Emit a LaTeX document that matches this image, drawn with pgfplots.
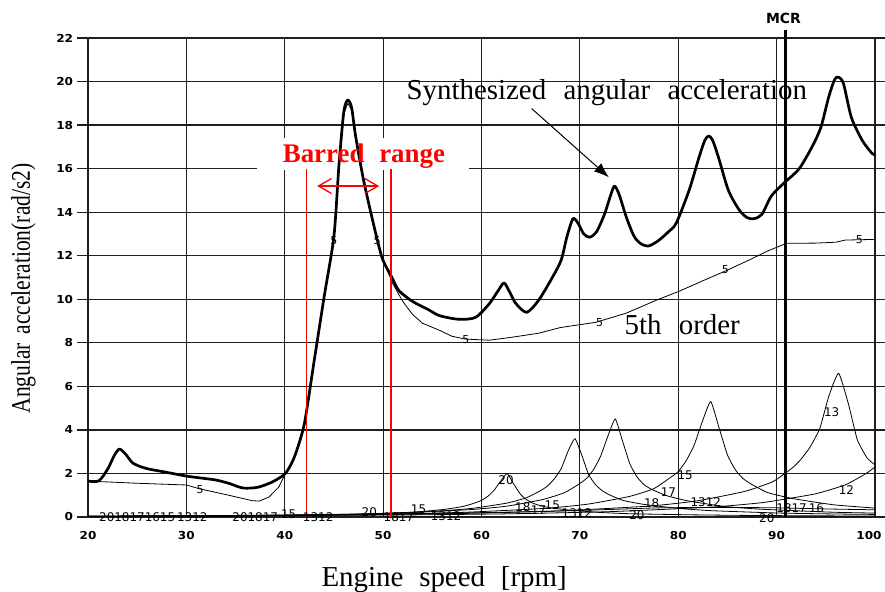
\documentclass[border=0pt]{standalone}
\usepackage{pgfplots}
\pgfplotsset{compat=1.18}
\usepackage{fontspec}
\setmainfont{Liberation Serif}
\newfontfamily\tickfont{DejaVu Sans}
\usetikzlibrary{arrows.meta}
\begin{document}
\begin{tikzpicture}
\path[use as bounding box] (-88bp,-75bp) rectangle (797bp,517bp);
\begin{axis}[
  at={(0bp,0bp)}, anchor=south west,
  scale only axis, width=787bp, height=479bp,
  xmin=20, xmax=100, ymin=0, ymax=22,
  xtick={20,30,...,100}, ytick={0,2,...,22},
  xticklabels={20,30,40,50,60,70,80,90,\kern-11bp 100},
  grid=major,
  grid style={line width=1.2bp, color=black!88},
  axis line style={line width=1.2bp, color=black!88},
  tick align=outside, major tick length=11bp,
  xtick style={draw=none},
  ytick style={line width=1.2bp, color=black!88},
  /pgf/number format/assume math mode=true,
  ticklabel style={font=\tickfont\bfseries\fontsize{11}{11}\selectfont, xscale=1.1},
  clip=false,
]
% white box behind the title of the barred range
\fill[white] (axis cs:37.2,15.93) rectangle (axis cs:58.7,17.4);

% ---- order curves (thin) ----
\pgfplotsset{every axis plot/.append style={line join=round}}
% order 20
\addplot[black, line width=0.8bp, smooth, tension=0.3] coordinates {(20,0.02)(25.0,0.025)(31.3,0.031)(37.6,0.049)(43.8,0.082)(50.1,0.152)(53.2,0.224)(56.3,0.354)(58.2,0.492)(59.5,0.672)(60.1,0.79)(60.7,0.97)(61.3,1.24)(62.0,1.68)(62.6,2.0)(63.2,1.57)(63.9,1.08)(64.5,0.82)(65.1,0.66)(65.7,0.56)(67.0,0.42)(68.9,0.32)(72.0,0.21)(75.1,0.15)(81.4,0.10)(87.6,0.07)(93.9,0.054)(100,0.044)};
% order 18
\addplot[black, line width=0.8bp, smooth, tension=0.3] coordinates {(20,0.03)(27.8,0.045)(34.8,0.056)(41.7,0.088)(48.7,0.147)(55.6,0.273)(59.1,0.40)(62.6,0.64)(64.6,0.89)(66.0,1.21)(66.7,1.42)(67.4,1.75)(68.1,2.22)(68.8,3.02)(69.5,3.6)(70.2,2.83)(70.9,1.94)(71.6,1.48)(72.3,1.20)(73.0,1.02)(74.4,0.76)(76.5,0.58)(79.9,0.40)(83.4,0.29)(90.4,0.18)(97.3,0.13)(100,0.12)};
% order 17
\addplot[black, line width=0.8bp, smooth, tension=0.3] coordinates {(20,0.03)(29.4,0.056)(36.8,0.07)(44.2,0.11)(51.5,0.184)(58.9,0.34)(62.6,0.50)(66.2,0.80)(68.4,1.11)(69.9,1.51)(70.7,1.78)(71.4,2.19)(72.1,2.78)(72.9,3.78)(73.6,4.5)(74.3,3.54)(75.1,2.42)(75.8,1.85)(76.5,1.49)(77.3,1.27)(78.8,0.98)(81.0,0.74)(84.6,0.49)(88.3,0.36)(95.7,0.22)(100,0.18)};
% order 16
\addplot[black, line width=0.8bp, smooth, tension=0.3] coordinates {(20,0.03)(30,0.05)(40,0.08)(50,0.13)(60,0.2)(70,0.3)(78,0.42)(85,0.44)(90,0.42)(95,0.37)(100,0.33)};
% order 15
\addplot[black, line width=0.8bp, smooth, tension=0.3] coordinates {(20,0.03)(33.3,0.066)(41.7,0.083)(50.0,0.13)(58.3,0.216)(66.6,0.40)(70.8,0.59)(75.0,0.94)(77.5,1.30)(79.1,1.78)(80.0,2.09)(80.8,2.58)(81.6,3.28)(82.5,4.45)(83.3,5.3)(84.1,4.17)(85.0,2.85)(85.8,2.17)(86.6,1.76)(87.5,1.49)(89.1,1.12)(91.6,0.85)(95.8,0.56)(100,0.41)};
% order 13
\addplot[black, line width=0.8bp, smooth, tension=0.3] coordinates {(20,0.03)(38.5,0.082)(48.2,0.10)(57.8,0.16)(67.4,0.27)(77.0,0.50)(81.9,0.74)(86.7,1.17)(89.6,1.62)(91.5,2.22)(92.4,2.61)(93.4,3.21)(94.4,4.08)(95.3,5.54)(96.3,6.6)(97.3,5.19)(98.2,3.55)(99.2,2.71)(100,2.4)};
% order 12
\addplot[black, line width=0.8bp, smooth, tension=0.3] coordinates {(20,0.03)(41.7,0.074)(52.2,0.094)(62.6,0.146)(73.0,0.245)(83.4,0.455)(88.7,0.67)(93.9,1.06)(97.0,1.48)(99.1,2.0)(100,2.3)};
% order 5
\addplot[black, line width=0.8bp] coordinates {(20,1.65)(25,1.55)(30,1.47)(31.3,1.3)(34.3,1.0)(36.7,0.75)(37.4,0.73)(38.4,0.92)(39.4,1.38)(40,1.93)(40.5,2.3)(41.1,2.9)(42,4.3)(43,7.2)(44,10.1)(45,12.8)(45.5,16.0)(46.0,18.5)(46.4,19.0)(46.8,18.7)(47.2,17.4)(48,15.4)(49,13.4)(49.9,11.9)(51,10.7)(52,9.9)(53,9.3)(54,8.9)(55.7,8.58)(57,8.3)(58.4,8.17)(60.8,8.12)(63,8.25)(65.8,8.44)(68,8.7)(71.6,8.94)(74.7,9.36)(78,10.0)(80.1,10.37)(82.5,10.85)(84.8,11.3)(87.2,11.8)(89,12.2)(91,12.57)(94,12.58)(96,12.62)(97,12.72)(100,12.75)};

% ---- synthesized (thick) ----
\addplot[black, line width=2.7bp, smooth, tension=0.45] coordinates {(20,1.65)(21.1,1.66)(22,2.2)(22.7,2.85)(23.2,3.12)(23.8,2.9)(24.5,2.5)(25.3,2.32)(26.2,2.2)(27.9,2.06)(30,1.88)(32,1.76)(33,1.7)(34.3,1.55)(35.2,1.4)(35.8,1.33)(36.6,1.33)(37.4,1.38)(38.7,1.6)(39.9,1.93)(40.5,2.3)(41.1,2.9)(42,4.3)(43,7.2)(44,10.1)(45,12.9)(45.5,16.1)(46.0,18.6)(46.4,19.15)(46.8,18.8)(47.2,17.5)(48,15.5)(49,13.5)(49.9,11.9)(50.9,11.0)(51.6,10.4)(53,9.9)(54.7,9.5)(55.7,9.25)(57.7,9.08)(59.4,9.17)(60.8,9.8)(61.7,10.4)(62.3,10.75)(62.9,10.3)(63.5,9.8)(64.6,9.4)(65.8,9.95)(67.2,11.0)(68.1,11.8)(68.7,12.9)(69.3,13.7)(69.8,13.5)(70.4,13.0)(71.0,12.85)(71.7,13.1)(72.5,13.9)(73.0,14.6)(73.5,15.2)(74.0,14.8)(74.7,13.8)(75.5,12.9)(76.2,12.55)(77,12.45)(78,12.7)(79.0,13.1)(79.8,13.5)(81.1,15.0)(82.1,16.5)(82.7,17.3)(83.1,17.5)(83.5,17.3)(84.1,16.5)(85.1,15.0)(86.2,14.1)(87.0,13.75)(87.7,13.7)(88.5,13.9)(89.4,14.7)(90.2,15.1)(90.9,15.4)(92.3,16.0)(93.6,17.0)(94.5,17.9)(95.3,19.3)(95.9,20.1)(96.3,20.2)(96.8,19.9)(97.6,18.35)(98.7,17.3)(99.7,16.7)(100,16.65)};

% ---- MCR line ----
\addplot[black, line width=3bp] coordinates {(90.9,0) (90.9,22.35)};
\node[font=\tickfont\bfseries\fontsize{14}{14}\selectfont, anchor=base] at (axis cs:90.7,22.66) {MCR};

% ---- barred range ----
\addplot[red, line width=1.3bp] coordinates {(42.2,16) (42.2,0)};
\addplot[red, line width=1.3bp] coordinates {(50.8,16) (50.8,0)};
\draw[red, line width=1.3bp, {Straight Barb[length=13bp,width=15bp]}-{Straight Barb[length=13bp,width=15bp]}] (axis cs:43.3,15.2) -- (axis cs:49.6,15.2);
\node[red, font=\bfseries\fontsize{27}{27}\selectfont, anchor=base] at (axis cs:48.05,16.28) {Barred\hspace{0.55em}range};

% ---- annotations ----
\node[font=\fontsize{29}{29}\selectfont, anchor=base] at (axis cs:72.74,19.17) {Synthesized\hspace{0.6em}angular\hspace{0.6em}acceleration};
\draw[black, line width=1bp, -{Latex[length=15bp,width=11bp]}] (axis cs:65.1,18.76) -- (axis cs:72.95,15.6);
\node[font=\fontsize{29}{29}\selectfont, anchor=base] at (axis cs:80.4,8.39) {5th\hspace{0.6em}order};

% ---- curve labels ----
\begin{scope}[every node/.style={font=\tickfont\fontsize{11}{11}\selectfont, inner sep=0pt}]
\node at (axis cs:31.4,1.25) {5};
\node at (axis cs:45.0,12.7) {5};
\node at (axis cs:49.4,12.7) {5};
\node at (axis cs:58.4,8.17) {5};
\node at (axis cs:72.0,8.95) {5};
\node at (axis cs:84.8,11.35) {5};
\node at (axis cs:98.4,12.75) {5};
\end{scope}
\begin{scope}[every node/.style={font=\tickfont\fontsize{12}{12}\selectfont, inner sep=0pt}]
\node at (axis cs:62.5,1.7) {20};
\node at (axis cs:95.6,4.8) {13};
\node at (axis cs:97.1,1.24) {12};
\node at (axis cs:80.7,1.93) {15};
\node at (axis cs:79.0,1.15) {17};
\node at (axis cs:77.3,0.64) {18};
\node at (axis cs:75.8,0.08) {20};
\node at (axis cs:89.0,-0.05) {20};
\node at (axis cs:82.8,0.69) {1312};
\node at (axis cs:92.4,0.4) {1317\,16};
\node at (axis cs:64.2,0.46) {18};
\node at (axis cs:65.8,0.33) {17};
\node at (axis cs:67.2,0.52) {15};
\node at (axis cs:69.7,0.18) {1312};
\node at (axis cs:48.6,0.22) {20};
\node at (axis cs:51.6,0.0) {1817};
\node at (axis cs:53.6,0.35) {15};
\node at (axis cs:56.4,0.02) {1312};
\node at (axis cs:25.0,0.0) {2018171615};
\node at (axis cs:30.6,0.0) {1312};
\node at (axis cs:37.0,0.0) {201817};
\node at (axis cs:40.4,0.15) {15};
\node at (axis cs:43.4,0.0) {1312};
\end{scope}

% ---- axis titles ----
\node[font=\fontsize{29}{29}\selectfont, anchor=base] at (axis cs:56.2,-3.17) {Engine\hspace{0.55em}speed\hspace{0.55em}[rpm]};
\node[font=\fontsize{27}{27}\selectfont, anchor=base, rotate=90] at (axis cs:14.1,10.5) {\scalebox{0.8}[1]{Angular\hspace{0.4em}acceleration(rad/s2)}};
\end{axis}
\end{tikzpicture}
\end{document}
